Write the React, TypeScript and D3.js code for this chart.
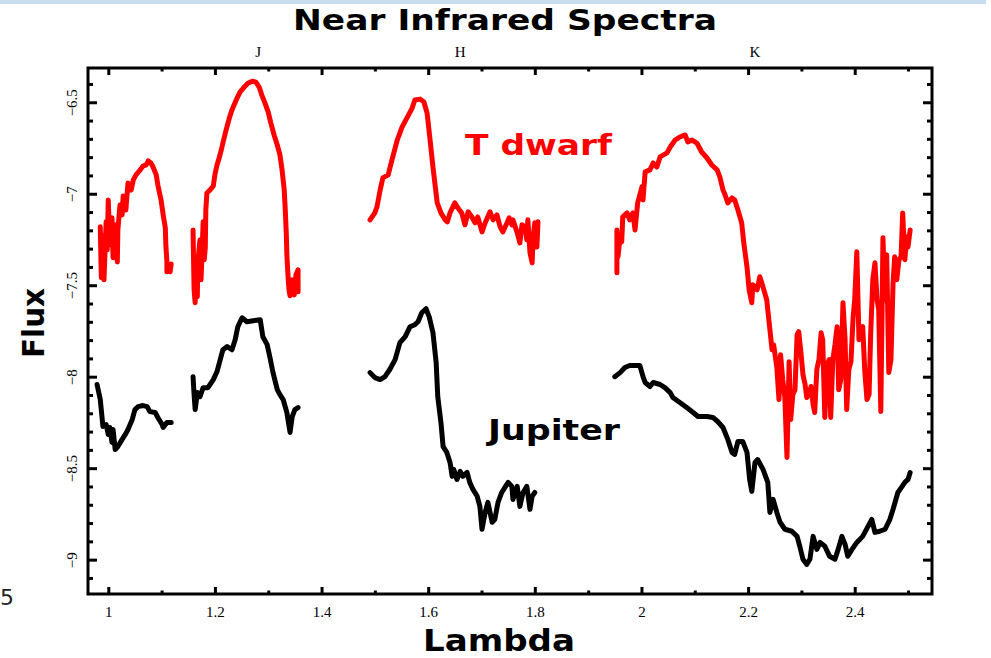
import React from "react";
import * as d3 from "d3";

// ---- data (lambda [micron], log flux) ----
const tdwarfJ1: [number, number][] = [
  [0.984, -7.178], [0.986, -7.456], [0.989, -7.228], [0.991, -7.468], [0.995, -7.151],
  [0.997, -7.304], [0.999, -7.031], [1.002, -7.276], [1.006, -7.129], [1.008, -7.347],
  [1.012, -7.167], [1.016, -7.37], [1.017, -7.195], [1.021, -7.059], [1.025, -7.113],
  [1.027, -7.009], [1.032, -7.086], [1.036, -6.938], [1.042, -6.977], [1.046, -6.922],
  [1.051, -6.894], [1.059, -6.867], [1.064, -6.846], [1.07, -6.84], [1.074, -6.818],
  [1.079, -6.829], [1.083, -6.851], [1.089, -6.894], [1.092, -6.949], [1.098, -7.031],
  [1.102, -7.113], [1.106, -7.184], [1.107, -7.276], [1.109, -7.37], [1.109, -7.424],
  [1.113, -7.402], [1.115, -7.424], [1.117, -7.381],
];
const tdwarfJ2: [number, number][] = [
  [1.158, -7.195], [1.16, -7.522], [1.162, -7.593], [1.164, -7.386], [1.166, -7.56],
  [1.167, -7.37], [1.171, -7.25], [1.173, -7.468], [1.177, -7.151], [1.179, -7.358],
  [1.181, -7.293], [1.182, -7.086], [1.184, -6.993], [1.19, -6.976], [1.196, -6.955],
  [1.199, -6.894], [1.203, -6.84], [1.207, -6.802], [1.211, -6.758], [1.214, -6.72],
  [1.22, -6.649], [1.226, -6.584], [1.231, -6.54], [1.239, -6.485], [1.246, -6.442],
  [1.254, -6.414], [1.261, -6.393], [1.269, -6.382], [1.276, -6.387], [1.282, -6.414],
  [1.287, -6.458], [1.293, -6.502], [1.299, -6.551], [1.304, -6.611], [1.31, -6.676],
  [1.316, -6.731], [1.321, -6.785], [1.325, -6.867], [1.329, -6.976], [1.331, -7.086],
  [1.333, -7.222], [1.334, -7.331], [1.336, -7.441], [1.338, -7.522], [1.34, -7.555],
  [1.344, -7.468], [1.348, -7.55], [1.351, -7.441], [1.355, -7.413], [1.355, -7.533],
];
const tdwarfH: [number, number][] = [
  [1.49, -7.14], [1.499, -7.102], [1.503, -7.069], [1.509, -6.976], [1.514, -6.911],
  [1.524, -6.894], [1.531, -6.813], [1.541, -6.704], [1.55, -6.633], [1.559, -6.584],
  [1.569, -6.529], [1.574, -6.485], [1.584, -6.48], [1.591, -6.496], [1.597, -6.556],
  [1.602, -6.687], [1.608, -6.851], [1.616, -7.047], [1.623, -7.102], [1.631, -7.14],
  [1.635, -7.151], [1.64, -7.102], [1.649, -7.047], [1.655, -7.075], [1.662, -7.102],
  [1.668, -7.167], [1.674, -7.096], [1.681, -7.124], [1.687, -7.156], [1.692, -7.124],
  [1.7, -7.206], [1.706, -7.156], [1.715, -7.096], [1.721, -7.14], [1.728, -7.113],
  [1.734, -7.178], [1.739, -7.206], [1.747, -7.156], [1.751, -7.129], [1.756, -7.167],
  [1.758, -7.14], [1.766, -7.211], [1.771, -7.266], [1.775, -7.167], [1.781, -7.178],
  [1.784, -7.249], [1.786, -7.14], [1.79, -7.32], [1.794, -7.375], [1.796, -7.233],
  [1.799, -7.156], [1.803, -7.288], [1.805, -7.151],
];
const tdwarfK: [number, number][] = [
  [1.953, -7.429], [1.953, -7.195], [1.955, -7.342], [1.959, -7.233], [1.962, -7.26],
  [1.964, -7.124], [1.972, -7.102], [1.977, -7.14], [1.983, -7.102], [1.987, -7.195],
  [1.992, -7.047], [2.0, -6.96], [2.002, -7.031], [2.006, -6.878], [2.015, -6.867],
  [2.021, -6.829], [2.028, -6.851], [2.034, -6.796], [2.047, -6.774], [2.053, -6.742],
  [2.062, -6.704], [2.071, -6.687], [2.081, -6.676], [2.086, -6.714], [2.094, -6.704],
  [2.103, -6.72], [2.112, -6.769], [2.122, -6.802], [2.131, -6.84], [2.141, -6.867],
  [2.146, -6.905], [2.152, -6.976], [2.156, -7.004], [2.161, -7.047], [2.169, -7.02],
  [2.174, -7.031], [2.18, -7.086], [2.187, -7.156], [2.191, -7.266], [2.197, -7.397],
  [2.201, -7.522], [2.206, -7.593], [2.208, -7.495], [2.216, -7.522], [2.221, -7.451],
  [2.227, -7.506], [2.234, -7.577], [2.24, -7.741], [2.244, -7.85], [2.247, -7.823],
  [2.253, -7.947], [2.257, -8.122], [2.26, -7.877], [2.264, -8.013], [2.268, -8.111],
  [2.272, -8.439], [2.276, -7.915], [2.279, -8.231], [2.283, -8.095], [2.287, -8.068],
  [2.291, -7.768], [2.294, -7.751], [2.298, -7.86], [2.302, -7.986], [2.306, -8.04],
  [2.309, -8.111], [2.313, -8.095], [2.317, -8.051], [2.321, -8.149], [2.324, -8.193],
  [2.328, -7.958], [2.332, -7.904], [2.336, -7.757], [2.339, -7.795], [2.343, -8.22],
  [2.347, -7.931], [2.351, -7.904], [2.354, -8.22], [2.358, -7.904], [2.362, -7.823],
  [2.366, -7.724], [2.369, -8.068], [2.373, -8.013], [2.377, -7.593], [2.381, -7.795],
  [2.384, -8.177], [2.388, -7.958], [2.392, -7.915], [2.396, -7.675], [2.399, -7.577],
  [2.403, -7.315], [2.407, -7.795], [2.411, -7.741], [2.414, -7.724], [2.418, -7.969],
  [2.422, -8.122], [2.426, -8.095], [2.429, -7.762], [2.433, -7.467], [2.437, -7.375],
  [2.441, -7.577], [2.444, -7.631], [2.448, -8.188], [2.452, -7.238], [2.456, -7.577],
  [2.459, -7.331], [2.463, -7.975], [2.467, -7.904], [2.471, -7.484], [2.474, -7.342],
  [2.478, -7.467], [2.482, -7.358], [2.486, -7.342], [2.489, -7.102], [2.493, -7.358],
  [2.497, -7.233], [2.499, -7.288], [2.503, -7.195],
];

const jupiterJ1: [number, number][] = [
  [0.978, -8.04], [0.984, -8.122], [0.989, -8.269], [0.995, -8.259], [0.999, -8.313],
  [1.002, -8.275], [1.006, -8.357], [1.008, -8.286], [1.012, -8.395], [1.017, -8.379],
  [1.025, -8.34], [1.031, -8.313], [1.036, -8.286], [1.044, -8.231], [1.049, -8.177],
  [1.055, -8.161], [1.064, -8.155], [1.072, -8.161], [1.077, -8.188], [1.087, -8.193],
  [1.092, -8.22], [1.1, -8.259], [1.102, -8.275], [1.106, -8.259], [1.109, -8.248],
  [1.117, -8.248],
];
const jupiterJ2: [number, number][] = [
  [1.158, -7.997], [1.16, -8.095], [1.162, -8.177], [1.166, -8.084], [1.171, -8.106],
  [1.177, -8.057], [1.186, -8.057], [1.196, -8.013], [1.203, -7.969], [1.209, -7.904],
  [1.214, -7.85], [1.222, -7.833], [1.231, -7.85], [1.237, -7.795], [1.242, -7.724],
  [1.25, -7.675], [1.259, -7.697], [1.271, -7.691], [1.284, -7.686], [1.289, -7.779],
  [1.297, -7.822], [1.302, -7.888], [1.308, -7.975], [1.316, -8.068], [1.321, -8.095],
  [1.327, -8.122], [1.334, -8.193], [1.34, -8.302], [1.344, -8.215], [1.349, -8.177],
  [1.355, -8.166],
];
const jupiterH: [number, number][] = [
  [1.49, -7.975], [1.499, -8.002], [1.509, -8.013], [1.518, -7.997], [1.527, -7.958],
  [1.537, -7.904], [1.546, -7.811], [1.556, -7.778], [1.565, -7.724], [1.574, -7.713],
  [1.58, -7.697], [1.587, -7.648], [1.595, -7.626], [1.601, -7.67], [1.608, -7.757],
  [1.614, -7.92], [1.617, -8.106], [1.623, -8.248], [1.627, -8.379], [1.634, -8.411],
  [1.64, -8.466], [1.644, -8.542], [1.647, -8.504], [1.653, -8.559], [1.659, -8.515],
  [1.664, -8.542], [1.672, -8.52], [1.677, -8.575], [1.683, -8.613], [1.691, -8.651],
  [1.696, -8.706], [1.7, -8.831], [1.706, -8.738], [1.711, -8.684], [1.719, -8.793],
  [1.724, -8.777], [1.73, -8.684], [1.737, -8.63], [1.743, -8.602], [1.749, -8.575],
  [1.756, -8.597], [1.758, -8.668], [1.766, -8.597], [1.771, -8.706], [1.777, -8.63],
  [1.784, -8.597], [1.79, -8.722], [1.794, -8.651], [1.799, -8.63],
];
const jupiterK: [number, number][] = [
  [1.949, -7.997], [1.959, -7.975], [1.968, -7.947], [1.977, -7.936], [1.996, -7.936],
  [2.002, -7.997], [2.006, -8.029], [2.015, -8.051], [2.021, -8.029], [2.034, -8.04],
  [2.043, -8.057], [2.053, -8.084], [2.058, -8.111], [2.071, -8.138], [2.084, -8.166],
  [2.096, -8.193], [2.105, -8.215], [2.122, -8.215], [2.133, -8.22], [2.142, -8.242],
  [2.152, -8.275], [2.161, -8.34], [2.169, -8.411], [2.174, -8.422], [2.18, -8.351],
  [2.189, -8.351], [2.197, -8.411], [2.202, -8.559], [2.206, -8.624], [2.212, -8.466],
  [2.217, -8.45], [2.227, -8.504], [2.236, -8.575], [2.24, -8.739], [2.246, -8.668],
  [2.253, -8.739], [2.259, -8.793], [2.268, -8.831], [2.281, -8.842], [2.291, -8.87],
  [2.296, -8.924], [2.302, -8.995], [2.309, -9.023], [2.315, -8.995], [2.321, -8.87],
  [2.328, -8.941], [2.334, -8.903], [2.343, -8.924], [2.352, -8.979], [2.362, -8.995],
  [2.368, -8.941], [2.375, -8.87], [2.381, -8.914], [2.386, -8.979], [2.394, -8.941],
  [2.403, -8.903], [2.414, -8.87], [2.424, -8.815], [2.431, -8.777], [2.437, -8.848],
  [2.446, -8.842], [2.456, -8.831], [2.465, -8.777], [2.471, -8.722], [2.48, -8.63],
  [2.488, -8.597], [2.493, -8.575], [2.499, -8.559], [2.503, -8.521],
];

const tdwarfSegments = [tdwarfJ1, tdwarfJ2, tdwarfH, tdwarfK];
const jupiterSegments = [jupiterJ1, jupiterJ2, jupiterH, jupiterK];

const xTickLabels = [1, 1.2, 1.4, 1.6, 1.8, 2, 2.2, 2.4];
const yTickLabels = [-6.5, -7, -7.5, -8, -8.5, -9];
const bandLabels = [
  { name: "J", lambda: 1.28 },
  { name: "H", lambda: 1.659 },
  { name: "K", lambda: 2.212 },
];

const W = 991;
const H = 658;
const L = 88, R = 932, T = 68, B = 594;

export default function App() {
  const x = d3.scaleLinear().domain([0.961, 2.544]).range([L, R]);
  const y = d3.scaleLinear().domain([-9.185, -6.31]).range([B, T]);
  const line = d3
    .line<[number, number]>()
    .x((d) => x(d[0]))
    .y((d) => y(d[1]));

  const xMinor = d3.range(10, 26).map((v) => v / 10);
  const yMinor = d3.range(-91, -63).map((v) => v / 10);
  const isMajorX = (v: number) => Math.abs(Math.round(v * 5) - v * 5) < 1e-6;
  const isMajorY = (v: number) => Math.abs(Math.round(v * 2) - v * 2) < 1e-6;

  const tickFont = "'Liberation Serif', 'DejaVu Serif', serif";
  const boldFont = "'DejaVu Sans', Verdana, sans-serif";
  const fmt = (v: number) => String(v).replace("-", "\u2212");

  return (
    <svg
      width={W}
      height={H}
      viewBox={`0 0 ${W} ${H}`}
      style={{ position: "absolute", left: 0, top: 0, background: "#fff" }}
    >
      <rect x={0} y={0} width={W} height={H} fill="#fff" />
      <rect x={0} y={0} width={986} height={4} fill="#c9dbf1" />
      <text x={0} y={605} fontFamily={boldFont} fontSize={22} fill="#222">5</text>

      {/* title */}
      <text
        x={505}
        y={30}
        textAnchor="middle"
        fontFamily={boldFont}
        fontWeight="bold"
        fontSize={29}
        textLength={424}
        lengthAdjust="spacingAndGlyphs"
      >
        Near Infrared Spectra
      </text>

      {/* band labels */}
      {bandLabels.map((b) => (
        <text
          key={b.name}
          x={x(b.lambda)}
          y={57}
          textAnchor="middle"
          fontFamily={tickFont}
          fontSize={15}
        >
          {b.name}
        </text>
      ))}

      {/* spectra */}
      <g fill="none" strokeWidth={5} strokeLinejoin="round" strokeLinecap="round">
        {tdwarfSegments.map((s, i) => (
          <path key={"t" + i} d={line(s) || ""} stroke="#ff0000" />
        ))}
        {jupiterSegments.map((s, i) => (
          <path key={"j" + i} d={line(s) || ""} stroke="#000" />
        ))}
      </g>

      {/* ticks */}
      <g stroke="#000" strokeWidth={3}>
        {xMinor.map((v) => {
          const len = isMajorX(v) ? 7 : 3.5;
          return (
            <g key={"xt" + v}>
              <line x1={x(v)} x2={x(v)} y1={B} y2={B - len} />
              <line x1={x(v)} x2={x(v)} y1={T} y2={T + len} />
            </g>
          );
        })}
        {yMinor.map((v) => {
          const len = isMajorY(v) ? 9 : 5;
          return (
            <g key={"yt" + v}>
              <line x1={L} x2={L + len} y1={y(v)} y2={y(v)} />
              <line x1={R} x2={R - len} y1={y(v)} y2={y(v)} />
            </g>
          );
        })}
      </g>

      {/* frame */}
      <rect x={L} y={T} width={R - L} height={B - T} fill="none" stroke="#000" strokeWidth={3} />

      {/* tick labels */}
      {xTickLabels.map((v) => (
        <text
          key={"xl" + v}
          x={x(v)}
          y={617}
          textAnchor="middle"
          fontFamily={tickFont}
          fontSize={15}
        >
          {fmt(v)}
        </text>
      ))}
      {yTickLabels.map((v) => (
        <text
          key={"yl" + v}
          transform={`translate(77,${y(v)}) rotate(-90)`}
          textAnchor="middle"
          fontFamily={tickFont}
          fontSize={15}
        >
          {fmt(v)}
        </text>
      ))}

      {/* axis titles */}
      <text
        x={499}
        y={651}
        textAnchor="middle"
        fontFamily={boldFont}
        fontWeight="bold"
        fontSize={31}
        textLength={152}
        lengthAdjust="spacingAndGlyphs"
      >
        Lambda
      </text>
      <text
        transform={`translate(44,323) rotate(-90)`}
        textAnchor="middle"
        fontFamily={boldFont}
        fontWeight="bold"
        fontSize={30}
        textLength={70}
        lengthAdjust="spacingAndGlyphs"
      >
        Flux
      </text>

      {/* curve labels */}
      <text
        x={465}
        y={155}
        fontFamily={boldFont}
        fontWeight="bold"
        fontSize={28}
        fill="#ff0000"
        textLength={147}
        lengthAdjust="spacingAndGlyphs"
      >
        T dwarf
      </text>
      <text
        x={488}
        y={440}
        fontFamily={boldFont}
        fontWeight="bold"
        fontSize={28}
        fill="#000"
        textLength={132}
        lengthAdjust="spacingAndGlyphs"
      >
        Jupiter
      </text>
    </svg>
  );
}
